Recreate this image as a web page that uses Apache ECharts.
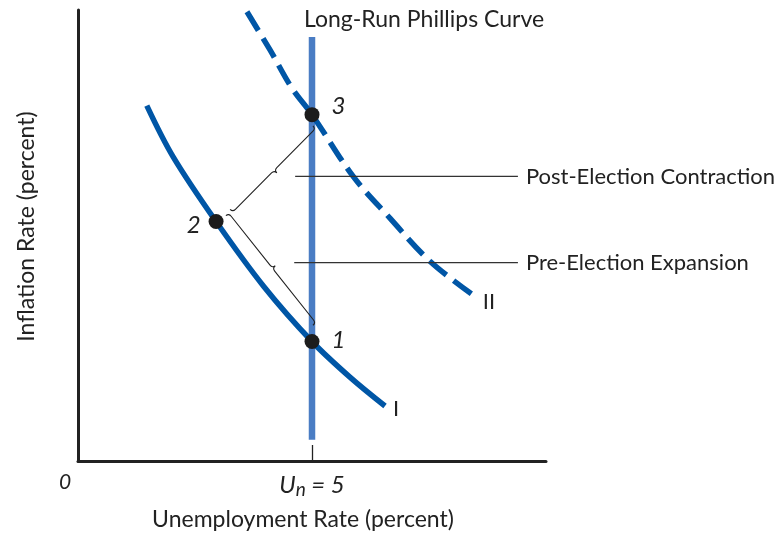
<!DOCTYPE html>
<html><head><meta charset="utf-8">
<script src="https://cdn.jsdelivr.net/npm/echarts@6/dist/echarts.min.js"></script>
<style>html,body{margin:0;padding:0;background:#fff}#c{width:778px;height:536px}</style>
</head><body><div id="c"></div>
<script>
// ---- data (in chart units) ----
const xRange = [0, 10];
const yRange = [0, 10];
const naturalRate = 5;
const curveIX = [1.47, 2.03, 2.95, 3.97, 5.0, 5.81, 6.56];
const curveIY = [7.88, 6.75, 5.31, 3.87, 2.65, 1.86, 1.22];
const curveIIX = [3.61, 4.10, 4.57, 5.0, 5.88, 6.67, 7.52, 8.48];
const curveIIY = [9.96, 9.12, 8.27, 7.68, 6.31, 5.38, 4.43, 3.65];
const lrpcY = [0.47, 9.40];
const pointNames = ['1', '2', '3'];
const pointX = [5.0, 2.95, 5.0];
const pointY = [2.65, 5.31, 7.68];
const leaderNames = ['Post-Election Contraction', 'Pre-Election Expansion'];
const leaderY = [6.31, 4.40];
const leaderXStart = [4.64, 4.62];
const leaderXEnd = 9.40;
// braces: start (x, y) -> end (x, y)
const braceStartX = [3.25, 3.16];
const braceStartY = [5.58, 5.44];
const braceEndX = [5.02, 5.02];
const braceEndY = [7.43, 3.01];
const xTickValues = [0, 5];

const FONT = 'Lato';
const INK = '#222222';
const CURVE = '#0056a6';
const LRPC = '#4a7dc4';

const zip = (a, b) => a.map((v, i) => [v, b[i]]);
const pointLabelOffset = [[12, -1], [-8, 4], [12, -8]];
const pointLabelPos = ['right', 'left', 'right'];

function braceRender(params, api) {
  const a = api.coord([api.value(0), api.value(1)]);
  const b = api.coord([api.value(2), api.value(3)]);
  const dx = b[0] - a[0], dy = b[1] - a[1];
  const L = Math.sqrt(dx * dx + dy * dy);
  const ux = dx / L, uy = dy / L;
  let nx = -uy, ny = ux;
  if (nx < 0) { nx = -nx; ny = -ny; }
  const h = 7.5;
  const P = (s, t) => (a[0] + s * ux + t * nx).toFixed(2) + ' ' + (a[1] + s * uy + t * ny).toFixed(2);
  const m = L / 2;
  const d = 'M' + P(0, 0) + ' Q' + P(0, h / 2) + ' ' + P(h / 2, h / 2) +
    ' L' + P(m - h / 2, h / 2) + ' Q' + P(m, h / 2) + ' ' + P(m, h) +
    ' Q' + P(m, h / 2) + ' ' + P(m + h / 2, h / 2) +
    ' L' + P(L - h / 2, h / 2) + ' Q' + P(L, h / 2) + ' ' + P(L, 0);
  return { type: 'path', shape: { pathData: d }, style: { stroke: INK, lineWidth: 1.1, fill: null } };
}

const series = [
  { type: 'line', name: 'LRPC', data: lrpcY.map(y => [naturalRate, y]), symbol: 'none', z: 1,
    lineStyle: { color: LRPC, width: 6.5, cap: 'butt' },
    endLabel: { show: true, formatter: 'Long-Run Phillips Curve', align: 'left', offset: [-8, -17], distance: 0,
      color: INK, fontFamily: FONT, fontSize: 23 } },
  { type: 'line', name: 'I', data: zip(curveIX, curveIY), smooth: 0.35, symbol: 'none', z: 3,
    lineStyle: { color: CURVE, width: 5.5, cap: 'butt' },
    endLabel: { show: true, formatter: 'I', distance: 8, offset: [0, 3], color: INK, fontFamily: FONT, fontSize: 22 } },
  { type: 'line', name: 'II', data: zip(curveIIX, curveIIY), smooth: 0.35, symbol: 'none', z: 3,
    lineStyle: { color: CURVE, width: 5.5, type: [22, 9], cap: 'butt' },
    endLabel: { show: true, formatter: 'II', distance: 8, offset: [0, 6], color: INK, fontFamily: FONT, fontSize: 22 } },
];
leaderNames.forEach((nm, i) => {
  series.push({ type: 'line', name: nm, data: [[leaderXStart[i], leaderY[i]], [leaderXEnd, leaderY[i]]], symbol: 'none', z: 4,
    lineStyle: { color: '#333', width: 1.2 },
    endLabel: { show: true, formatter: nm, distance: 8, color: INK, fontFamily: FONT, fontSize: 22 } });
});
series.push({ type: 'custom', name: 'braces', z: 4, renderItem: braceRender,
  data: braceStartX.map((x, i) => [x, braceStartY[i], braceEndX[i], braceEndY[i]]) });
series.push({ type: 'scatter', name: 'points', z: 5, symbolSize: 15,
  itemStyle: { color: '#1c1c1c', opacity: 1 },
  data: pointNames.map((n, i) => ({ name: n, value: [pointX[i], pointY[i]],
    label: { show: true, formatter: '{b}', position: pointLabelPos[i], distance: 0, offset: pointLabelOffset[i],
      color: INK, fontFamily: FONT, fontStyle: 'italic', fontSize: 24 } })) });

const chart = echarts.init(document.getElementById('c'), null, { renderer: 'canvas' });
chart.setOption({
  animation: false,
  backgroundColor: '#fff',
  grid: { left: 78, right: 232, top: 10, bottom: 74 },
  xAxis: {
    type: 'value', min: xRange[0], max: xRange[1],
    name: 'Unemployment Rate (percent)', nameLocation: 'middle', nameGap: 47,
    nameTextStyle: { fontFamily: FONT, fontSize: 23, color: INK, padding: [0, 18, 0, 0] },
    axisLine: { show: true, onZero: false, lineStyle: { color: INK, width: 3 } },
    axisTick: { show: true, inside: true, length: 16, customValues: [naturalRate], lineStyle: { color: INK, width: 1.3 } },
    axisLabel: { show: true, customValues: xTickValues, margin: 11,
      formatter: v => v === naturalRate ? '{u|U}{n|n}{u| = 5}' : '{z|0}',
      rich: {
        u: { fontFamily: FONT, fontStyle: 'italic', fontSize: 24, color: INK },
        n: { fontFamily: FONT, fontStyle: 'italic', fontSize: 19, color: INK, padding: [8, 0, 0, 0] },
        z: { fontFamily: FONT, fontStyle: 'italic', fontSize: 21, color: INK, padding: [0, 26, 0, 0] }
      } },
    splitLine: { show: false }
  },
  yAxis: {
    type: 'value', min: yRange[0], max: yRange[1],
    name: 'Inflation Rate (percent)', nameLocation: 'middle', nameGap: 40,
    nameTextStyle: { fontFamily: FONT, fontSize: 23, color: INK, padding: [0, 0, 0, 18] },
    axisLine: { show: true, onZero: false, lineStyle: { color: INK, width: 3 } },
    axisTick: { show: false }, axisLabel: { show: false }, splitLine: { show: false }
  },
  series: series
});
</script></body></html>
